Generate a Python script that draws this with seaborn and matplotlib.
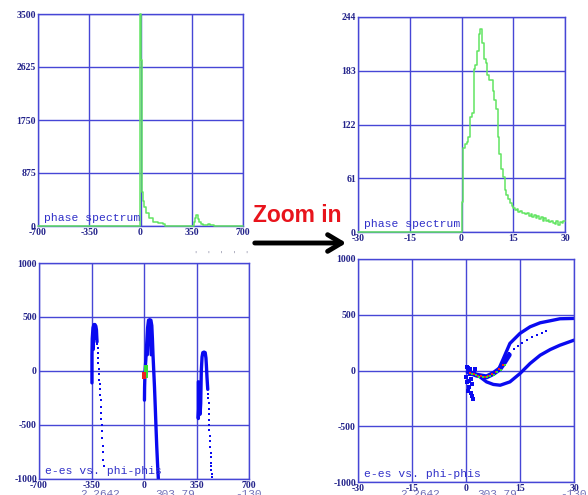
import numpy as np
import pandas as pd
import matplotlib
matplotlib.use("Agg")
import matplotlib.pyplot as plt
import seaborn as sns

# ---------------- data ----------------
# top-left: phase spectrum over the full range (histogram outline, steps)
full_phase_x = [-700, -2, 6, 12, 20, 27, 39, 61, 84, 120, 152, 170, 362, 370, 380, 390, 398, 415, 430, 445, 460, 475, 490, 505, 528, 700]
full_phase_y = [0, 3500, 2740, 566, 420, 319, 210, 127, 71, 45, 33, 0, 60, 140, 182, 120, 71, 33, 22, 15, 25, 12, 20, 8, 0, 0]

# top-right: phase spectrum zoomed (-30..30), bin width 0.5 starting at 0
zoom_bin_start = [-30.0, 0.0, 0.5, 1.0, 1.5, 2.0, 2.5, 3.0, 3.5, 4.0, 4.5, 5.0, 5.5, 6.0, 6.5, 7.0, 7.5,
                  8.0, 8.5, 9.0, 9.5, 10.0, 10.5, 11.0, 11.5, 12.0, 12.5, 13.0, 13.5, 14.0, 14.5,
                  15.0, 15.5, 16.0, 16.5, 17.0, 17.5, 18.0, 18.5, 19.0, 19.5, 20.0, 20.5, 21.0,
                  21.5, 22.0, 22.5, 23.0, 23.5, 24.0, 24.5, 25.0, 25.5, 26.0, 26.5, 27.0, 27.5,
                  28.0, 28.5, 29.0, 29.5, 30.0]
zoom_counts = [0, 34, 95, 100, 102, 108, 130, 135, 185, 190, 205, 225, 230, 215, 196, 192, 178,
               172, 172, 160, 150, 140, 108, 88, 72, 62, 48, 42, 37, 33, 30,
               27, 25, 26, 23, 24, 21, 22, 20, 21, 18, 20, 17, 19,
               16, 18, 15, 17, 13, 16, 12, 14, 11, 13, 10, 9, 12,
               8, 11, 10, 12, 12]

# bottom-left: e-es vs. phi-phis (full range), three bunches
ovr_c1_line_x = [-347, -347, -345, -340, -334, -327, -321, -317, -315, -313]
ovr_c1_line_y = [-110, 150, 300, 400, 430, 430, 415, 380, 320, 270]
ovr_c1_inner_x = [-338, -336, -332, -328]
ovr_c1_inner_y = [200, 350, 390, 300]
ovr_c1_dots_x = [-311, -309, -307, -305, -304, -302, -300, -298, -296, -294, -292, -290,
                 -288, -286, -284, -282, -280, -278, -276, -274, -272, -269]
ovr_c1_dots_y = [250, 210, 170, 120, 70, 20, -30, -80, -120, -170, -220, -270,
                 -330, -390, -440, -500, -560, -620, -690, -750, -820, -880]

ovr_c2_line_x = [3, 4, 7, 12, 18, 24, 30, 38, 46, 52, 56, 60, 65, 70, 75, 80, 85, 90, 96]
ovr_c2_line_y = [-270, -150, 0, 100, 250, 400, 470, 475, 470, 420, 300, 150, 0, -150, -330, -520, -700, -850, -1010]
ovr_c2_inner_x = [22, 28, 36, 44, 48]
ovr_c2_inner_y = [150, 380, 420, 380, 150]
ovr_green_x = [12, 13, 14, 15]
ovr_green_y = [40, 10, -20, -50]
ovr_red_x = [1, 2]
ovr_red_y = [-30, -55]

ovr_c3_line_x = [362, 362, 366, 370, 374, 378, 382, 387, 392, 400, 408, 413, 416, 420, 425]
ovr_c3_line_y = [-100, -440, -300, -150, -400, -300, 0, 130, 170, 175, 170, 120, 50, -60, -170]
ovr_c3_dots_x = [428, 429, 430, 431, 432, 433, 435, 436, 438, 440, 442, 444, 446, 447, 448, 449, 450, 452]
ovr_c3_dots_y = [-210, -250, -300, -350, -400, -450, -500, -550, -600, -650, -700, -760, -800, -850, -880, -920, -950, -980]

# bottom-right: e-es vs. phi-phis zoomed
zm_upper_x = [9.2, 10.4, 12.2, 15.0, 17.8, 20.6, 23.4, 26.1, 30.0]
zm_upper_y = [20, 108, 243, 333, 392, 428, 446, 464, 467]
zm_mid_x = [12.0, 13.2, 14.4, 15.6, 16.9, 18.2, 19.6, 21.0, 22.2]
zm_mid_y = [160, 192, 220, 247, 272, 298, 320, 338, 350]
zm_lower_x = [4.0, 5.7, 7.6, 9.5, 12.2, 15.0, 17.8, 20.6, 23.4, 26.1, 30.0]
zm_lower_y = [-60, -102, -125, -132, -102, -27, 63, 137, 188, 227, 272]
zm_core_x = [0.6, 3.0, 5.7, 7.6, 9.5, 10.8, 12.0]
zm_core_y = [-13, -42, -57, -27, 18, 78, 140]
zm_red_x = [1.2, 2.2, 3.2, 4.2, 5.2, 6.2, 7.2, 8.2, 9.2, 10.2]
zm_red_y = [-22, -35, -46, -52, -55, -48, -33, -12, 10, 45]
zm_green_x = [1.7, 2.7, 3.7, 4.7, 5.7, 6.7, 7.7, 8.7, 9.7, 10.7]
zm_green_y = [-32, -44, -55, -60, -62, -52, -38, -16, 8, 52]
zm_spread_x = [0.0, 0.3, 0.5, 0.8, 1.0, 1.3, 1.5, 1.8, 2.0, 0.2, 0.6, 1.2, 1.6, 2.2, 2.6, 0.9]
zm_spread_y = [-60, -100, 20, -150, -30, -200, -80, -120, -257, 30, -180, 10, -230, -20, 10, -90]

# axis ticks
full_ticks = [-700, -350, 0, 350, 700]
zoom_ticks = [-30, -15, 0, 15, 30]
tl_yticks = [0, 875, 1750, 2625, 3500]
tr_yticks = [0, 61, 122, 183, 244]
b_yticks = [-1000, -500, 0, 500, 1000]

# ---------------- style ----------------
sns.set_style("white")
plt.rcParams['font.family'] = ['DejaVu Sans']

GRID = '#4646d6'
GREEN = '#62e462'
DOT = '#0a0af0'
TICKC = '#22228a'
TITLEC = '#3030c8'

W, H = 588, 495
fig = plt.figure(figsize=(W / 100, H / 100), dpi=100)


def add_axes(x0, y0, x1, y1):
    return fig.add_axes([x0 / W, 1 - y1 / H, (x1 - x0) / W, (y1 - y0) / H])


ax_tl = add_axes(38, 14, 243, 226)
ax_tr = add_axes(358, 17, 565, 232)
ax_bl = add_axes(39, 263, 249, 479)
ax_br = add_axes(358, 259, 574, 482)


def segs(*pairs):
    rows = []
    for i, (xs, ys) in enumerate(pairs):
        for x, y in zip(xs, ys):
            rows.append((i, x, y))
    return pd.DataFrame(rows, columns=['seg', 'x', 'y'])


def style(ax, xticks, yticks, title):
    ax.set_xlim(xticks[0], xticks[-1])
    ax.set_ylim(yticks[0], yticks[-1])
    ax.set_xticks(xticks)
    ax.set_xticklabels([str(t) for t in xticks])
    ax.set_yticks(yticks)
    ax.set_yticklabels([str(t) for t in yticks])
    ax.grid(True, color=GRID, lw=1.0)
    for s in ax.spines.values():
        s.set_visible(True)
        s.set_color(GRID)
        s.set_linewidth(1.0)
    ax.tick_params(length=0, pad=1.5, labelsize=7, labelcolor=TICKC)
    for lab in ax.get_xticklabels() + ax.get_yticklabels():
        lab.set_fontfamily('Liberation Serif')
        lab.set_fontweight('bold')
    ax.set_xlabel('')
    ax.set_ylabel('')
    ax.text(0.03, 0.012, title, transform=ax.transAxes, ha='left', va='bottom',
            family='Liberation Mono', fontsize=8.2, color=TITLEC, zorder=5)


# top-left spectrum
sns.lineplot(x=full_phase_x, y=full_phase_y, drawstyle='steps-post', estimator=None, sort=False,
             color=GREEN, lw=1.1, ax=ax_tl, clip_on=False, zorder=4)
style(ax_tl, full_ticks, tl_yticks, 'phase spectrum')

# top-right spectrum
sns.lineplot(x=zoom_bin_start, y=zoom_counts, drawstyle='steps-post', estimator=None, sort=False,
             color=GREEN, lw=1.1, ax=ax_tr, clip_on=False, zorder=4)
style(ax_tr, zoom_ticks, tr_yticks, 'phase spectrum')

# bottom-left scatter
df_bl = segs((ovr_c1_line_x, ovr_c1_line_y), (ovr_c1_inner_x, ovr_c1_inner_y),
             (ovr_c2_line_x, ovr_c2_line_y), (ovr_c2_inner_x, ovr_c2_inner_y),
             (ovr_c3_line_x, ovr_c3_line_y))
sns.lineplot(data=df_bl, x='x', y='y', units='seg', estimator=None, sort=False,
             color=DOT, lw=2.4, ax=ax_bl, legend=False)
sns.scatterplot(x=ovr_c1_dots_x + ovr_c3_dots_x, y=ovr_c1_dots_y + ovr_c3_dots_y,
                marker='s', s=4, color=DOT, linewidth=0, ax=ax_bl, legend=False)
sns.scatterplot(x=ovr_green_x, y=ovr_green_y, marker='s', s=5, color='#33dd33', linewidth=0, ax=ax_bl, zorder=4)
sns.scatterplot(x=ovr_red_x, y=ovr_red_y, marker='s', s=5, color='#ee2222', linewidth=0, ax=ax_bl, zorder=4)
style(ax_bl, full_ticks, b_yticks, 'e-es vs. phi-phis')

# bottom-right scatter
df_br = segs((zm_upper_x, zm_upper_y), (zm_lower_x, zm_lower_y))
sns.lineplot(data=df_br, x='x', y='y', units='seg', estimator=None, sort=False,
             color=DOT, lw=2.4, ax=ax_br, legend=False)
sns.lineplot(x=zm_core_x, y=zm_core_y, estimator=None, sort=False,
             color=DOT, lw=3.6, ax=ax_br, legend=False)
sns.scatterplot(x=zm_mid_x, y=zm_mid_y, marker='s', s=3, color=DOT, linewidth=0, ax=ax_br)
sns.scatterplot(x=zm_spread_x, y=zm_spread_y, marker='s', s=5, color=DOT, linewidth=0, ax=ax_br)
sns.scatterplot(x=zm_red_x, y=zm_red_y, marker='s', s=3, color='#ee2222', linewidth=0, ax=ax_br, zorder=4)
sns.scatterplot(x=zm_green_x, y=zm_green_y, marker='s', s=3, color='#33dd33', linewidth=0, ax=ax_br, zorder=4)
style(ax_br, zoom_ticks, b_yticks, 'e-es vs. phi-phis')

# overlay: "Zoom in" arrow and cut-off status text
ov = fig.add_axes([0, 0, 1, 1])
ov.set_xlim(0, W)
ov.set_ylim(H, 0)
ov.axis('off')
ov.patch.set_visible(False)
ov.text(253, 216, 'Zoom in', color='#e8141c', fontsize=16.5, fontweight='bold',
        family='Liberation Sans', va='center', ha='left')
ov.annotate('', xy=(349, 243), xytext=(252, 243),
            arrowprops=dict(arrowstyle='->,head_length=1.0,head_width=0.6', lw=3.5,
                            color='black', mutation_scale=10))
ov.text(195, 256, "'    '    '    '    '", color='#9a9ab0', fontsize=6, family='DejaVu Sans',
        va='center', ha='left')
for x0, s in [(80, '2.2642'), (155, '303.79'), (235, '-130'),
              (400, '2.2642'), (477, '303.79'), (560, '-130')]:
    ov.text(x0, 489, s, color='#7070b8', fontsize=8, family='Liberation Mono',
            va='top', ha='left', clip_on=False)

fig.savefig('out.png', dpi=100)
